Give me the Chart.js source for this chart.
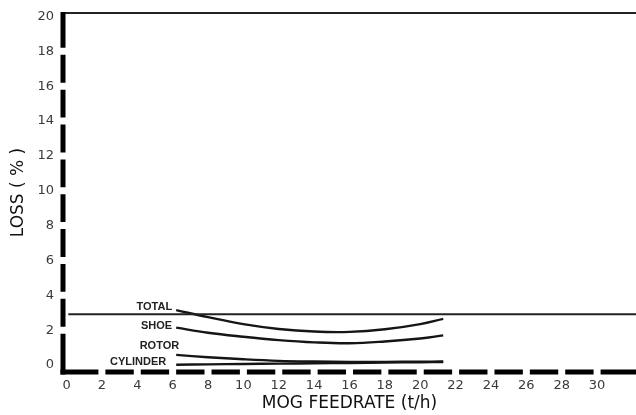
<!DOCTYPE html>
<html>
<head>
<meta charset="utf-8">
<script src="https://cdn.jsdelivr.net/npm/chart.js@4/dist/chart.umd.min.js"></script>
<style>
  html, body { margin: 0; padding: 0; background: #fff; }
</style>
</head>
<body>
<canvas id="lossChart" width="636" height="415"></canvas>
<script>
// values
const feedrate = [6.2, 8, 10, 12, 14, 16, 18, 20, 21.3];
const totalLoss = [3.15, 2.75, 2.35, 2.07, 1.92, 1.9, 2.05, 2.35, 2.65];
const shoeLoss = [2.15, 1.85, 1.62, 1.43, 1.3, 1.25, 1.35, 1.52, 1.7];
const rotorLoss = [0.58, 0.45, 0.33, 0.24, 0.2, 0.18, 0.18, 0.19, 0.2];
const cylinderLoss = [0.02, 0.04, 0.06, 0.08, 0.1, 0.12, 0.14, 0.16, 0.17];
const refFeed = [0.1, 32.2];
const refLoss = [2.92, 2.92];
const xTicks = [0, 2, 4, 6, 8, 10, 12, 14, 16, 18, 20, 22, 24, 26, 28, 30];
const yTicks = [0, 2, 4, 6, 8, 10, 12, 14, 16, 18, 20];

const ink = '#151515';
const font = "'Liberation Sans', Arial, sans-serif";
const wide = "'DejaVu Sans', 'Liberation Sans', sans-serif";

function pts(xs, ys) {
  return xs.map((x, i) => ({ x: x, y: ys[i] }));
}

// dash pattern with a gap at each tick (corner ticks stay solid)
function gappedDash(scale, ticks, skip, start, end) {
  const gaps = ticks.filter(v => !skip.includes(v))
    .map(v => scale.getPixelForValue(v))
    .sort((a, b) => a - b);
  const dash = [];
  let pos = start;
  gaps.forEach(p => {
    dash.push(Math.max(p - 3.5 - pos, 0), 7);
    pos = p + 3.5;
  });
  dash.push(end - pos + 20, 0);
  return dash;
}

// the thick broken axes of the original
const dashedAxes = {
  id: 'dashedAxes',
  afterDraw(chart) {
    const { ctx } = chart;
    const x = chart.scales.x, y = chart.scales.y;
    const w = 5;
    ctx.save();
    ctx.strokeStyle = '#000';
    ctx.lineWidth = w;
    // horizontal axis
    const yb = x.top;
    let a = y.right - w / 2, b = x.right + 1;
    ctx.setLineDash(gappedDash(x, xTicks, [0], a, b));
    ctx.beginPath(); ctx.moveTo(a, yb); ctx.lineTo(b, yb); ctx.stroke();
    // vertical axis
    const xl = y.right;
    a = y.top - 1; b = y.bottom + w / 2;
    ctx.setLineDash(gappedDash(y, yTicks, [0, 20], a, b));
    ctx.beginPath(); ctx.moveTo(xl, a); ctx.lineTo(xl, b); ctx.stroke();
    ctx.restore();
  }
};

// names written at the left end of each curve
const curveLabels = {
  id: 'curveLabels',
  afterDatasetsDraw(chart) {
    const ctx = chart.ctx;
    chart.data.datasets.forEach((ds, i) => {
      if (!ds.tag) return;
      const pt = chart.getDatasetMeta(i).data[0];
      ctx.save();
      ctx.font = 'bold 11px ' + font;
      ctx.fillStyle = '#222';
      ctx.textAlign = 'right';
      ctx.textBaseline = 'middle';
      ctx.fillText(ds.label, pt.x + ds.tag.dx, pt.y + ds.tag.dy);
      ctx.restore();
    });
  }
};

function curve(label, data, tag) {
  return {
    label: label,
    data: pts(feedrate, data),
    borderColor: ink,
    borderWidth: 2.4,
    pointRadius: 0,
    tension: 0.4,
    fill: false,
    tag: tag
  };
}

new Chart(document.getElementById('lossChart'), {
  type: 'line',
  data: {
    datasets: [
      {
        label: 'reference',
        data: pts(refFeed, refLoss),
        borderColor: '#222',
        borderWidth: 2,
        pointRadius: 0,
        fill: false
      },
      curve('TOTAL', totalLoss, { dx: -4, dy: -3 }),
      curve('SHOE', shoeLoss, { dx: -4, dy: -1.5 }),
      curve('ROTOR', rotorLoss, { dx: 3, dy: -9 }),
      curve('CYLINDER', cylinderLoss, { dx: -10, dy: -3 })
    ]
  },
  options: {
    responsive: false,
    animation: false,
    layout: { padding: 0 },
    plugins: {
      legend: { display: false },
      tooltip: { enabled: false }
    },
    scales: {
      x: {
        type: 'linear',
        position: 'bottom',
        min: -0.2,
        max: 32.2,
        afterBuildTicks: s => { s.ticks = xTicks.map(v => ({ value: v })); },
        afterFit: s => { s.height = 43; s.paddingLeft = 0; s.paddingRight = 0; },
        grid: { display: false, drawTicks: false },
        border: { display: false },
        ticks: {
          padding: 6,
          color: '#3a3a3a',
          font: { family: wide, size: 13 },
          callback: v => String(v)
        },
        title: {
          display: true,
          text: 'MOG FEEDRATE (t/h)',
          color: '#111',
          font: { family: wide, size: 17 },
          padding: { top: 0, bottom: 1 }
        }
      },
      xTop: {
        type: 'linear',
        position: 'top',
        min: -0.2,
        max: 32.2,
        afterFit: s => { s.height = 13; s.paddingLeft = 0; s.paddingRight = 0; },
        grid: { display: false, drawTicks: false },
        border: { display: true, color: '#222', width: 2 },
        ticks: { display: false }
      },
      y: {
        type: 'linear',
        min: -0.4,
        max: 20.2,
        afterBuildTicks: s => { s.ticks = yTicks.map(v => ({ value: v })); },
        afterFit: s => { s.width = 63; s.paddingTop = 0; s.paddingBottom = 0; },
        grid: { display: false, drawTicks: false },
        border: { display: false },
        ticks: {
          padding: 9,
          color: '#3a3a3a',
          font: { family: wide, size: 13 },
          callback: v => String(v)
        },
        title: {
          display: true,
          text: 'LOSS ( % )',
          color: '#111',
          font: { family: wide, size: 17 },
          padding: { top: 8, bottom: 0 }
        }
      }
    }
  },
  plugins: [curveLabels, dashedAxes]
});
</script>
</body>
</html>
